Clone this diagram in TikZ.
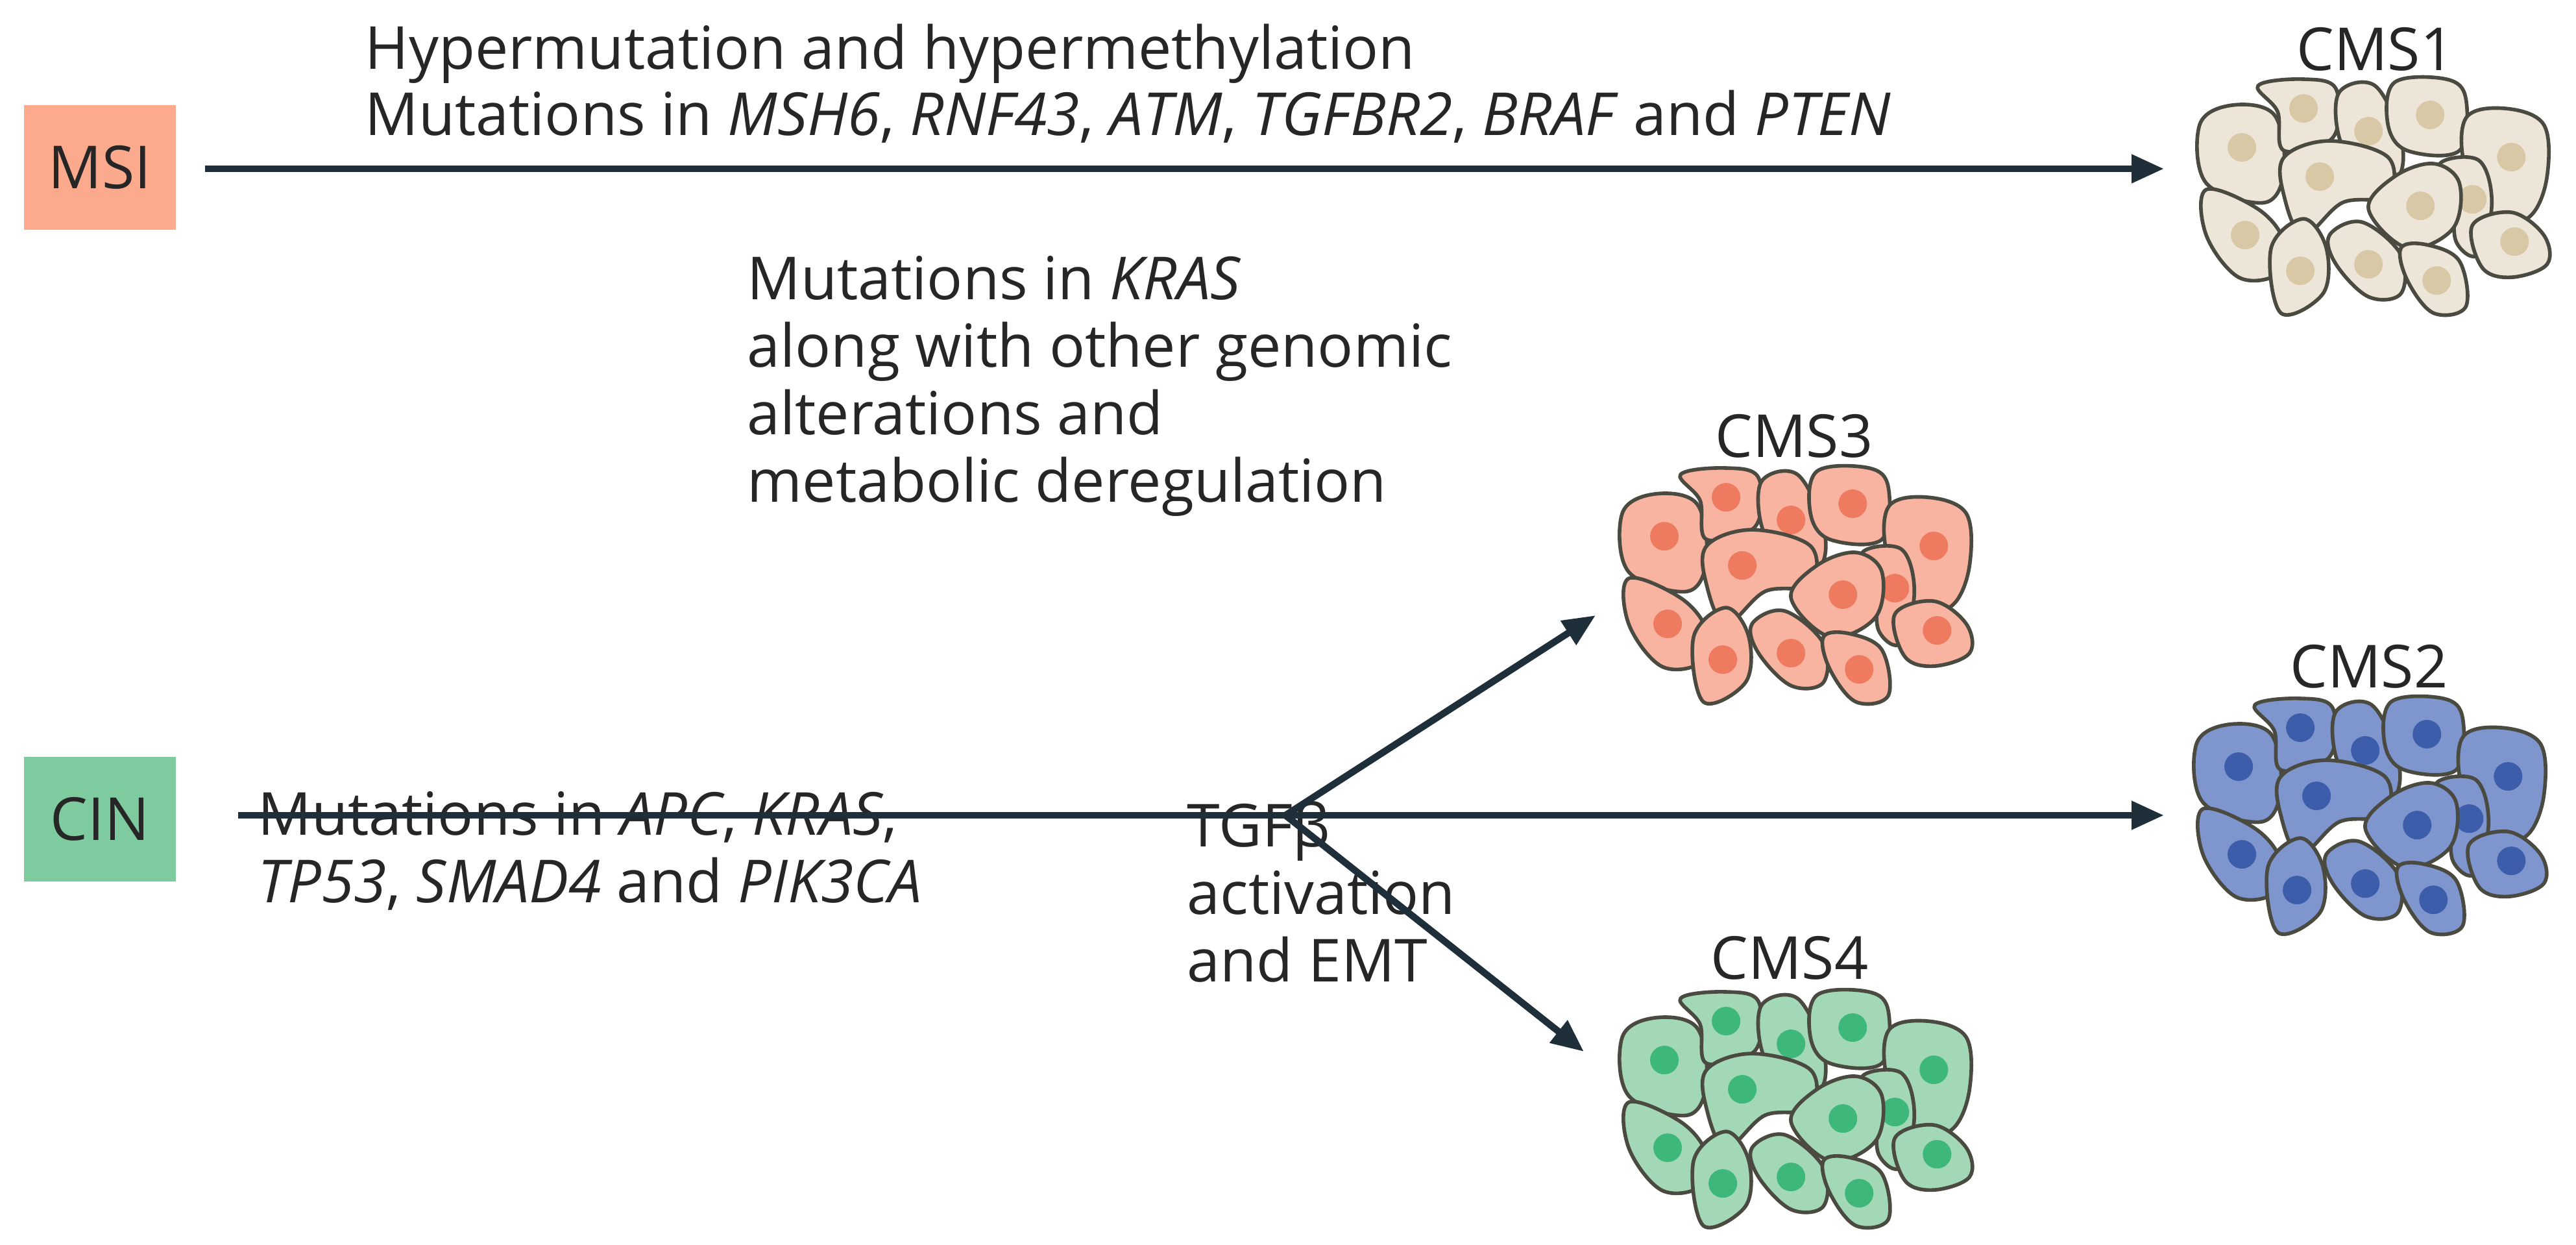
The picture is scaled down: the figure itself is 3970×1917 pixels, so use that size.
\documentclass[tikz,border=0pt]{standalone}
\usepackage{fontspec}
\setmainfont{Open Sans}
\usetikzlibrary{arrows.meta}
\definecolor{arr}{HTML}{1F2F3A}
\definecolor{edge}{HTML}{4A4A40}
\definecolor{msi}{HTML}{FCAA8E}
\definecolor{cin}{HTML}{7FCBA0}
\definecolor{fa}{HTML}{EDE6D8}\definecolor{na}{HTML}{D8C8A6}
\definecolor{fb}{HTML}{F8B4A0}\definecolor{nb}{HTML}{EE7A60}
\definecolor{fc}{HTML}{7E95CE}\definecolor{nc}{HTML}{3C5DAA}
\definecolor{fd}{HTML}{A3D8B6}\definecolor{nd}{HTML}{3DB87A}
\newcommand{\mycell}[2]{%
  \draw[cellst] plot[smooth cycle,tension=0.6] coordinates {#1};
  \fill[nucst] #2 circle (0.22);}
\newcommand{\mycluster}[3]{%
\begin{scope}[shift={(#1)},x=1cm,y=1cm,cellst/.style={fill=#2,draw=edge,line width=1.6pt},nucst/.style={fill=#3}]
\mycell{(0.0,-0.7) (0.5,-0.4) (1.15,-0.55) (1.3,-1.4) (1.0,-1.9) (0.1,-1.6)}{(0.65,-1.05)}
\mycell{(0.9,-0.1) (1.6,0) (2.1,-0.15) (2.05,-0.9) (1.3,-1.1) (1.2,-0.5)}{(1.6,-0.45)}
\mycell{(2.15,-0.2) (2.7,-0.1) (3.1,-0.9) (3.05,-1.5) (2.5,-1.4) (2.15,-0.9)}{(2.6,-0.8)}
\mycell{(3.0,-0.05) (3.8,0) (4.1,-0.3) (4.0,-1.1) (3.2,-1.1) (2.9,-0.7)}{(3.55,-0.55)}
\mycell{(4.1,-0.6) (4.7,-0.45) (5.3,-0.7) (5.35,-1.5) (5.1,-2.1) (4.6,-2.2) (4.1,-1.4)}{(4.8,-1.2)}
\mycell{(0.1,-1.7) (0.9,-2.0) (1.3,-2.5) (1.2,-3.0) (0.6,-3.05) (0.1,-2.4)}{(0.7,-2.4)}
\mycell{(1.3,-1.2) (2.0,-0.95) (2.9,-1.2) (2.9,-1.8) (2.2,-1.9) (1.6,-2.4) (1.3,-1.8)}{(1.85,-1.5)}
\mycell{(3.7,-1.3) (4.3,-1.25) (4.5,-1.9) (4.3,-2.7) (3.95,-2.5) (3.9,-1.8)}{(4.2,-1.85)}
\mycell{(2.6,-2.0) (3.0,-1.5) (3.6,-1.3) (4.0,-1.6) (3.9,-2.3) (3.2,-2.6)}{(3.4,-1.95)}
\mycell{(1.1,-2.6) (1.6,-2.15) (1.95,-2.6) (1.9,-3.3) (1.25,-3.6)}{(1.55,-2.95)}
\mycell{(2.0,-2.4) (2.5,-2.2) (3.1,-2.7) (3.1,-3.3) (2.6,-3.35) (2.1,-2.85)}{(2.6,-2.85)}
\mycell{(3.1,-2.6) (3.5,-2.55) (4.0,-2.8) (4.1,-3.5) (3.6,-3.6) (3.2,-3.1)}{(3.65,-3.1)}
\mycell{(4.2,-2.25) (4.8,-2.05) (5.3,-2.4) (5.35,-2.85) (4.8,-3.05) (4.35,-2.9)}{(4.85,-2.5)}
\end{scope}}
\begin{document}
\begin{tikzpicture}[x=0.01cm,y=-0.01cm,
  lbl/.style={font=\fontsize{26}{29.5}\selectfont,text=black!85,inner sep=0pt},
  box/.style={minimum width=2.33cm,minimum height=1.91cm,inner sep=0pt,font=\fontsize{26}{29}\selectfont,text=black!85},
  ar/.style={draw=arr,line width=3pt,-{Triangle[length=0.5cm,width=0.42cm]}}]
\useasboundingbox (0,0) rectangle (3970,1917);
% boxes
\node[box,fill=msi] (msi) at (154,258) {MSI};
\node[box,fill=cin] (cin) at (154,1262) {CIN};
% clusters
\mycluster{3390,122}{fa}{na}
\mycluster{2500,721}{fb}{nb}
\mycluster{3385,1076}{fc}{nc}
\mycluster{2500,1528}{fd}{nd}
\coordinate (c1) at (3335,260);
\coordinate (c2) at (3335,1256);
\coordinate (c3) at (2459,948);
\coordinate (c4) at (2441,1620);
\coordinate (s1) at (316,260);
\coordinate (s2) at (367,1256);
\coordinate (br) at (1981,1256);
% labels
\node[lbl] (l1) at (3661,76) {CMS1};
\node[lbl] (l3) at (2765,672) {CMS3};
\node[lbl] (l2) at (3651,1027) {CMS2};
\node[lbl] (l4) at (2758,1476) {CMS4};
\node[lbl,anchor=base west] (t1) at (562,106) {Hypermutation and hypermethylation};
\node[lbl,anchor=base west] (t2) at (562,208) {Mutations in \textit{MSH6}, \textit{RNF43}, \textit{ATM}, \textit{TGFBR2}, \textit{BRAF} and \textit{PTEN}};
\node[lbl,anchor=base west,align=left] (t3) at (1151,773) {Mutations in \textit{KRAS}\\along with other genomic\\alterations and\\metabolic deregulation};
\node[lbl,anchor=base west,align=left] (t4) at (397,1390) {Mutations in \textit{APC}, \textit{KRAS},\\\textit{TP53}, \textit{SMAD4} and \textit{PIK3CA}};
\node[lbl,anchor=base west,align=left] (t5) at (1829,1512) {TGFβ\\activation\\and EMT};
% arrows
\draw[ar] (s1) -- (c1);
\draw[ar] (s2) -- (c2);
\draw[ar] (br) -- (c3);
\draw[ar] (br) -- (c4);
\end{tikzpicture}
\end{document}
